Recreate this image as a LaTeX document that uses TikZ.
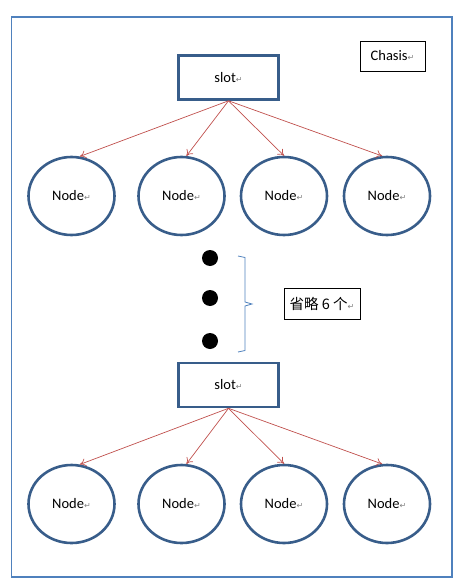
\documentclass[tikz,border=0pt]{standalone}
\usepackage{fontspec}
\setmainfont{Carlito}
\newfontfamily\cjkfont{Noto Sans CJK SC}
\newfontfamily\symfont{DejaVu Sans}
\usetikzlibrary{shapes.geometric,arrows.meta}
\definecolor{darkblue}{HTML}{385D8A}
\definecolor{frameblue}{HTML}{4F81BD}
\definecolor{arrowred}{HTML}{C0504D}
\newcommand{\pmark}{{\color{gray}\symfont\fontsize{8}{9}\selectfont ↵}}
\begin{document}
\begin{tikzpicture}[x=1pt,y=-1pt,
  every node/.style={font=\fontsize{14.5}{16}\selectfont, inner sep=0pt},
  slotbox/.style={draw=darkblue, line width=2.6pt, minimum width=100pt, minimum height=44pt},
  nodeell/.style={ellipse, draw=darkblue, line width=2.6pt, minimum width=86pt, minimum height=78pt},
  plainbox/.style={draw=black, line width=0.8pt},
  link/.style={draw=arrowred, line width=0.7pt, -{To[length=6pt,width=8pt]}},
  dotnode/.style={circle, fill=black, minimum size=16pt}]
\useasboundingbox (0,0) rectangle (467,588);
% outer frame
\draw[frameblue, line width=1.2pt] (11.5,17) rectangle (452,577);
% top
\node[plainbox, minimum width=65pt, minimum height=30pt] (chasis) at (392.5,56) {Chasis\pmark};
\node[slotbox] (slot1) at (228.5,77.5) {slot\pmark};
\node[nodeell] (n11) at (71.5,196) {Node\pmark};
\node[nodeell] (n12) at (181.5,196) {Node\pmark};
\node[nodeell] (n13) at (284,196) {Node\pmark};
\node[nodeell] (n14) at (387,196) {Node\pmark};
\draw[link] (slot1.south) -- (n11.78);
\draw[link] (slot1.south) -- (n12.83);
\draw[link] (slot1.south) -- (n13.90);
\draw[link] (slot1.south) -- (n14.97);
% dots and brace
\node[dotnode] (d1) at (210,258) {};
\node[dotnode] (d2) at (210,298) {};
\node[dotnode] (d3) at (210,341) {};
\draw[frameblue, line width=0.8pt] (238,256) -- (245,257.5) -- (245,302) -- (252,304) -- (245,306) -- (245,350.5) -- (238,352);
\node[plainbox, minimum width=76pt, minimum height=31pt] (omit) at (322,303.5) {{\cjkfont 省略 6 个}\pmark};
% bottom
\node[slotbox] (slot2) at (228.5,385) {slot\pmark};
\node[nodeell] (n21) at (71.5,504) {Node\pmark};
\node[nodeell] (n22) at (181.5,504) {Node\pmark};
\node[nodeell] (n23) at (284,504) {Node\pmark};
\node[nodeell] (n24) at (387,504) {Node\pmark};
\draw[link] (slot2.south) -- (n21.78);
\draw[link] (slot2.south) -- (n22.83);
\draw[link] (slot2.south) -- (n23.90);
\draw[link] (slot2.south) -- (n24.97);
\end{tikzpicture}
\end{document}
